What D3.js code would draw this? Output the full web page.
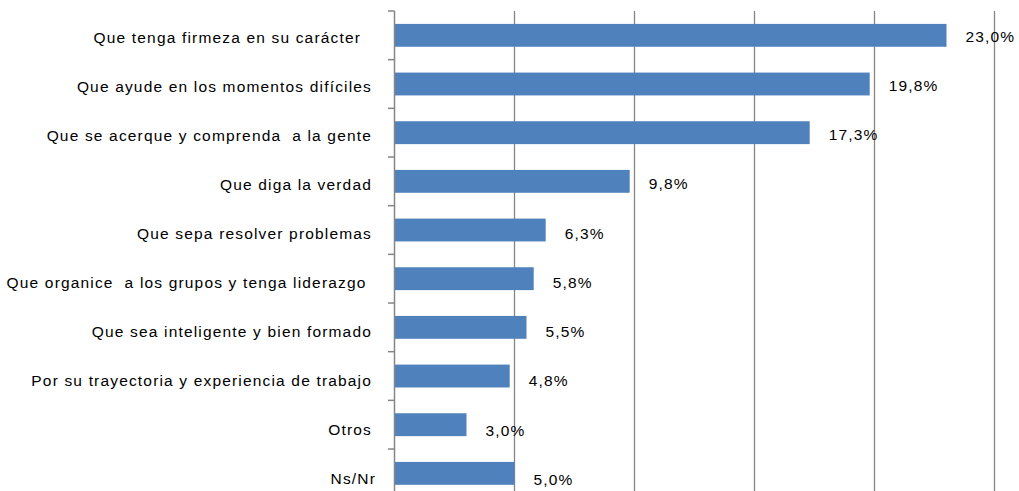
<!DOCTYPE html>
<html><head><meta charset="utf-8">
<script src="https://cdn.jsdelivr.net/npm/d3@7"></script>
<style>
html,body{margin:0;padding:0;background:#fff;}
text{font-family:"Liberation Sans",Arial,sans-serif;fill:#000;white-space:pre;letter-spacing:1.17px;}
</style></head>
<body>
<svg id="chart" width="1019" height="491"></svg>
<script>
const categories = [
  "Que tenga firmeza en su carácter  ",
  "Que ayude en los momentos difíciles",
  "Que se acerque y comprenda  a la gente",
  "Que diga la verdad",
  "Que sepa resolver problemas",
  "Que organice  a los grupos y tenga liderazgo ",
  "Que sea inteligente y bien formado",
  "Por su trayectoria y experiencia de trabajo",
  "Otros",
  "Ns/Nr"
];
const values = [23.0, 19.8, 17.3, 9.8, 6.3, 5.8, 5.5, 4.8, 3.0, 5.0];
const valueLabels = ["23,0%","19,8%","17,3%","9,8%","6,3%","5,8%","5,5%","4,8%","3,0%","5,0%"];
const gridTicks = [0, 5, 10, 15, 20, 25];

const svg = d3.select("#chart");
const x0 = 394.5, x1 = 994.5, yTop = 11, band = 48.67;
const x = d3.scaleLinear().domain([0, 25]).range([x0, x1]);
const y = d3.scaleBand().domain(categories).range([yTop, yTop + band * categories.length]).paddingInner(0.53).paddingOuter(0.265);

// gridlines
svg.append("g").selectAll("line").data(gridTicks.slice(1)).join("line")
  .attr("x1", d => x(d)).attr("x2", d => x(d))
  .attr("y1", yTop).attr("y2", 491)
  .attr("stroke", "#868686").attr("stroke-width", 1.3);

// bars
svg.append("g").selectAll("rect").data(values).join("rect")
  .attr("x", x(0))
  .attr("y", (d, i) => y(categories[i]))
  .attr("width", d => x(d) - x(0))
  .attr("height", y.bandwidth())
  .attr("fill", "#4F81BD");

// axis line and ticks
const ax = svg.append("g");
ax.append("line").attr("x1", x0).attr("x2", x0).attr("y1", yTop).attr("y2", 491)
  .attr("stroke", "#868686").attr("stroke-width", 1.5);
ax.selectAll("line.tk").data(d3.range(categories.length + 1)).join("line").attr("class", "tk")
  .attr("x1", x0 - 6.5).attr("x2", x0)
  .attr("y1", i => yTop + i * band).attr("y2", i => yTop + i * band)
  .attr("stroke", "#868686").attr("stroke-width", 1.5);

// category labels
svg.append("g").selectAll("text").data(categories).join("text")
  .attr("x", (d, i) => i === categories.length - 1 ? 376 : 372)
  .attr("y", (d, i) => y(d) + y.bandwidth() / 2 + 2 + i * 0.4)
  .attr("dy", "0.35em")
  .attr("text-anchor", "end")
  .attr("font-size", 15.5)
  .text(d => d);

// value labels
svg.append("g").selectAll("text").data(values).join("text")
  .attr("x", d => x(d) + 19)
  .attr("y", (d, i) => y(categories[i]) + y.bandwidth() / 2 + 1 + i * 0.55)
  .attr("dy", "0.35em")
  .attr("font-size", 15.5)
  .text((d, i) => valueLabels[i]);
</script>
</body></html>
